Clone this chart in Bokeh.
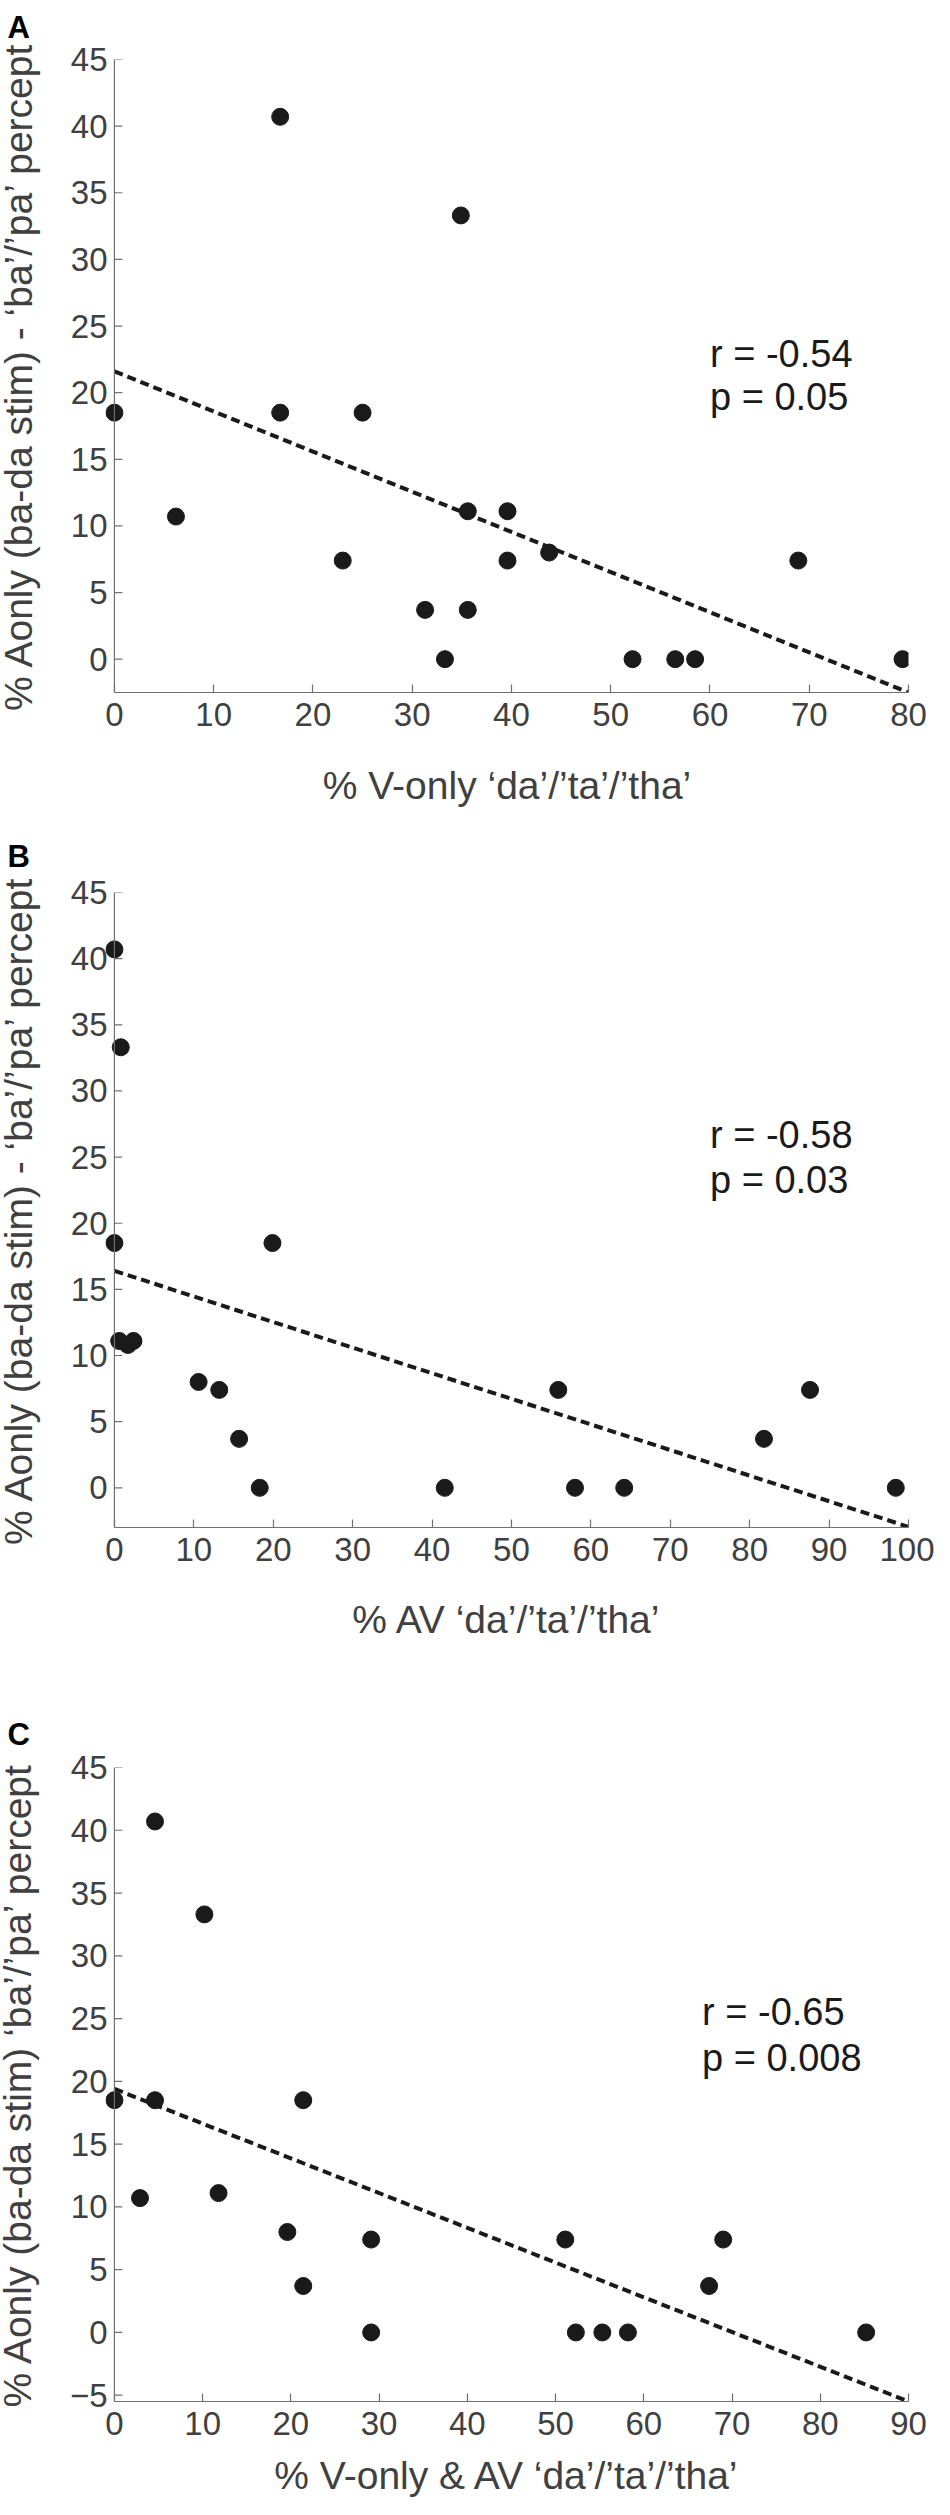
import math
from bokeh.plotting import figure
from bokeh.layouts import column
from bokeh.models import Range1d, FixedTicker, Label, ColumnDataSource, Span, Title
from bokeh.embed import file_html
from bokeh.resources import INLINE

# ---------------- data ----------------
# Panel A: % V-only 'da'/'ta'/'tha' vs % Aonly 'ba'/'pa'
a_x = [0, 6.2, 16.7, 16.7, 23.0, 25.0, 31.3, 33.3, 34.9, 35.6, 35.6, 39.6, 39.6, 43.8, 52.2, 56.5, 58.5, 68.9, 79.4]
a_y = [18.5, 10.7, 40.7, 18.5, 7.4, 18.5, 3.7, 0, 33.3, 11.1, 3.7, 11.1, 7.4, 8.0, 0, 0, 0, 7.4, 0]
a_fit_x = [0, 80]
a_fit_y = [21.6, -2.5]
a_xticks = [0, 10, 20, 30, 40, 50, 60, 70, 80]
a_yticks = [0, 5, 10, 15, 20, 25, 30, 35, 40, 45]
a_stats = ["r = -0.54", "p = 0.05"]

# Panel B: % AV 'da'/'ta'/'tha'
b_x = [0, 0.8, 0, 0.6, 1.7, 2.4, 10.6, 13.2, 15.7, 18.3, 19.9, 41.6, 55.9, 58.0, 64.2, 81.8, 87.6, 98.4]
b_y = [40.7, 33.3, 18.5, 11.1, 10.8, 11.1, 8.0, 7.4, 3.7, 0, 18.5, 0, 7.4, 0, 0, 3.7, 7.4, 0]
b_fit_x = [0, 100]
b_fit_y = [16.4, -2.95]
b_xticks = [0, 10, 20, 30, 40, 50, 60, 70, 80, 90, 100]
b_yticks = [0, 5, 10, 15, 20, 25, 30, 35, 40, 45]
b_stats = ["r = -0.58", "p = 0.03"]

# Panel C: % V-only & AV 'da'/'ta'/'tha'
c_x = [0, 2.9, 4.6, 4.6, 10.2, 11.8, 19.6, 21.4, 21.4, 29.1, 29.1, 51.1, 52.3, 55.3, 58.2, 67.4, 69.0, 85.2]
c_y = [18.5, 10.7, 40.7, 18.5, 33.3, 11.1, 8.0, 18.5, 3.7, 7.4, 0, 7.4, 0, 0, 0, 3.7, 7.4, 0]
c_fit_x = [0, 90]
c_fit_y = [19.4, -5.5]
c_xticks = [0, 10, 20, 30, 40, 50, 60, 70, 80, 90]
c_yticks = [-5, 0, 5, 10, 15, 20, 25, 30, 35, 40, 45]
c_stats = ["r = -0.65", "p = 0.008"]

FONT = "Liberation Sans"
AXIS_COL = "#707070"
TEXT_COL = "#404040"
INK = "#1a1a1a"


def panel(letter, xs, ys, fx, fy, xticks, yticks, stats, xlabel, ylabel,
          xmax, ymin, ymax, height, b_top, b_bottom, stat_pos, xlab_standoff,
          title_standoff):
    W = 942
    b_left, b_right = 106, 26
    frame_w = W - b_left - b_right            # 810 px
    ppu_x = (frame_w - 9) / xmax              # px per unit (axis from 0 to xmax)
    xmin = -9 / ppu_x                         # 9 px of room left of the y axis

    p = figure(width=W, height=height, output_backend="svg", toolbar_location=None,
               x_range=Range1d(xmin, xmax), y_range=Range1d(ymin, ymax),
               min_border_left=b_left, min_border_right=b_right,
               min_border_top=b_top, min_border_bottom=b_bottom)
    p.grid.visible = False
    p.outline_line_color = None
    p.background_fill_color = "white"
    p.border_fill_color = "white"

    # panel letter as a left-aligned title
    p.title = Title(text=letter, align="left", offset=-(b_left - 8),
                    standoff=title_standoff, text_font=FONT, text_font_size="31px",
                    text_font_style="bold", text_color="black")

    xa = p.xaxis[0]
    xa.axis_line_color = AXIS_COL
    xa.axis_line_width = 1.2
    xa.major_tick_line_color = AXIS_COL
    xa.major_tick_line_width = 1.2
    xa.major_tick_in = 8
    xa.major_tick_out = 0
    xa.minor_tick_line_color = None
    xa.ticker = FixedTicker(ticks=xticks)
    xa.bounds = (0, xmax)
    xa.major_label_standoff = 10
    xa.major_label_text_font = FONT
    xa.major_label_text_font_size = "33px"
    xa.major_label_text_color = TEXT_COL
    xa.axis_label = xlabel
    xa.axis_label_text_font = FONT
    xa.axis_label_text_font_size = "39px"
    xa.axis_label_text_font_style = "normal"
    xa.axis_label_text_color = TEXT_COL
    xa.axis_label_standoff = xlab_standoff

    # y axis: labels from bokeh axis (at the frame edge), rule + ticks drawn at x = 0
    ya = p.yaxis[0]
    ya.axis_line_color = None
    ya.major_tick_line_color = None
    ya.minor_tick_line_color = None
    ya.major_tick_in = 0
    ya.major_tick_out = 0
    ya.ticker = FixedTicker(ticks=yticks)
    ya.major_label_standoff = -2
    ya.major_label_text_font = FONT
    ya.major_label_text_font_size = "33px"
    ya.major_label_text_color = TEXT_COL
    ya.axis_label = ylabel
    ya.axis_label_text_font = FONT
    ya.axis_label_text_font_size = "39px"
    ya.axis_label_text_font_style = "normal"
    ya.axis_label_text_color = TEXT_COL
    ya.axis_label_standoff = 28

    p.add_layout(Span(location=0, dimension="height", line_color=AXIS_COL, line_width=1.2))
    tick_len = 8 / ppu_x
    p.segment(x0=[0] * len(yticks), x1=[tick_len] * len(yticks), y0=yticks, y1=yticks,
              line_color=AXIS_COL, line_width=1.2)

    # regression line
    p.line(fx, fy, line_color=INK, line_width=4, line_dash="9 5")
    # points
    src = ColumnDataSource(dict(x=xs, y=ys))
    p.scatter("x", "y", source=src, size=17, fill_color=INK, line_color=INK)

    # stats
    sx, sy1, sy2 = stat_pos
    p.add_layout(Label(x=sx, y=sy1, text=stats[0], text_font=FONT, text_font_size="38px",
                       text_color=INK, text_align="left", text_baseline="alphabetic"))
    p.add_layout(Label(x=sx, y=sy2, text=stats[1], text_font=FONT, text_font_size="38px",
                       text_color=INK, text_align="left", text_baseline="alphabetic"))
    return p


pA = panel("A", a_x, a_y, a_fit_x, a_fit_y, a_xticks, a_yticks, a_stats,
           "% V-only \u2018da\u2019/\u2019ta\u2019/\u2019tha\u2019",
           "% Aonly (ba-da stim) - \u2018ba\u2019/\u2019pa\u2019 percept",
           80, -2.5, 45, 820, 67, 120, (60, 22.9, 19.65), 35, 30)
pB = panel("B", b_x, b_y, b_fit_x, b_fit_y, b_xticks, b_yticks, b_stats,
           "% AV \u2018da\u2019/\u2019ta\u2019/\u2019tha\u2019",
           "% Aonly (ba-da stim) - \u2018ba\u2019/\u2019pa\u2019 percept",
           100, -3, 45, 832, 80, 117, (75, 26.7, 23.3), 34, 38)
pC = panel("C", c_x, c_y, c_fit_x, c_fit_y, c_xticks, c_yticks, c_stats,
           "% V-only & AV \u2018da\u2019/\u2019ta\u2019/\u2019tha\u2019",
           "% Aonly (ba-da stim) \u2018ba\u2019/\u2019pa\u2019 percept",
           90, -5.5, 45, 855, 123, 98, (66.6, 25.5, 21.9), 16, 31)

layout = column(pA, pB, pC, spacing=0, margin=(-8, 0, 0, -8))
open("out.html", "w").write(file_html(layout, INLINE))
